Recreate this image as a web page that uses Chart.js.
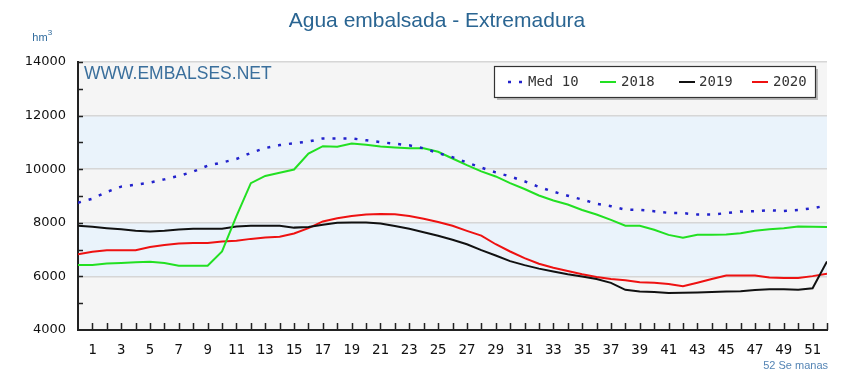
<!DOCTYPE html>
<html lang="es">
<head>
    <meta charset="UTF-8">
    <title>Agua embalsada - Extremadura</title>
    <script src="https://cdn.jsdelivr.net/npm/chart.js"></script>
    <style>
        body { margin: 0; padding: 0; background: #fff; }
        #wrap { width: 843px; height: 376px; }
    </style>
</head>
<body>
<div id="wrap"><canvas id="chart" width="843" height="376"></canvas></div>
<script>
// semanas (eje X) y series en hm3
const weeks = [0,1,2,3,4,5,6,7,8,9,10,11,12,13,14,15,16,17,18,19,20,21,22,23,24,25,26,
    27,28,29,30,31,32,33,34,35,36,37,38,39,40,41,42,43,44,45,46,47,48,49,50,51,52];
const med10 = [8750,8900,9150,9350,9420,9500,9620,9750,9910,10130,10250,10380,10610,10790,10900,10970,11030,11150,11150,11150,
    11080,11010,10950,10890,10780,10600,10450,10250,10060,9880,9730,9550,9340,9160,9010,8870,8710,8620,8490,8480,8430,8370,
    8360,8310,8310,8360,8420,8430,8470,8440,8480,8540,8650];
const y2018 = [6430,6430,6480,6500,6530,6550,6500,6400,6400,6400,6930,8250,9480,9750,9870,9990,10580,10860,10840,10960,
    10910,10850,10810,10780,10780,10650,10400,10150,9920,9730,9480,9260,9020,8830,8680,8480,8310,8110,7890,7890,7740,7550,
    7440,7550,7550,7560,7610,7700,7760,7800,7860,7850,7840];
const y2019 = [7890,7850,7800,7760,7700,7680,7700,7750,7780,7780,7780,7860,7890,7890,7890,7820,7840,7930,8000,8010,
    8010,7970,7880,7780,7650,7520,7370,7200,6980,6780,6570,6420,6290,6180,6080,6000,5900,5760,5500,5440,5420,5380,
    5390,5400,5420,5440,5450,5490,5520,5520,5500,5560,6560];
const y2020 = [6830,6920,6980,6980,6980,7100,7170,7230,7250,7250,7300,7330,7400,7450,7480,7600,7800,8050,8170,8250,
    8310,8330,8320,8250,8150,8030,7890,7700,7520,7200,6930,6680,6470,6320,6200,6080,5980,5900,5860,5780,5760,5720,
    5630,5760,5900,6030,6030,6030,5960,5940,5940,6010,6100];
const seriesNames = ['Med 10', '2018', '2019', '2020'];
const yTicks = [4000, 6000, 8000, 10000, 12000, 14000];

const pts = arr => weeks.map((w, i) => ({ x: w, y: arr[i] }));

// fondo con bandas, marcas hacia dentro, leyenda y textos
const decor = {
    id: 'decor',
    beforeDraw(chart) {
        const { ctx, chartArea: a, scales: { y } } = chart;
        ctx.save();
        ctx.fillStyle = '#fff';
        ctx.fillRect(0, 0, chart.width, chart.height);
        ctx.fillStyle = '#f5f5f5';
        ctx.fillRect(a.left, a.top, a.right - a.left, a.bottom - a.top);
        ctx.fillStyle = '#eaf3fb';
        [[6000, 8000], [10000, 12000]].forEach(([lo, hi]) => {
            const t = y.getPixelForValue(hi), b = y.getPixelForValue(lo);
            ctx.fillRect(a.left, t, a.right - a.left, b - t);
        });
        ctx.restore();
    },
    afterDraw(chart) {
        const { ctx, chartArea: a, scales: { x, y } } = chart;
        ctx.save();
        // marcas
        ctx.strokeStyle = '#222';
        ctx.lineWidth = 1.5;
        ctx.beginPath();
        for (let w = 1; w <= 52; w++) {
            const px = Math.round(x.getPixelForValue(w)) + 0.5;
            ctx.moveTo(px, a.bottom);
            ctx.lineTo(px, a.bottom - 7);
        }
        for (let v = 5000; v <= 14000; v += 1000) {
            const py = Math.round(y.getPixelForValue(v)) + 0.5;
            ctx.moveTo(a.left, py);
            ctx.lineTo(a.left + 5, py);
        }
        ctx.stroke();

        // textos
        ctx.textBaseline = 'alphabetic';
        ctx.textAlign = 'center';
        ctx.fillStyle = '#2a6592';
        ctx.font = '21px "Liberation Sans", Arial, sans-serif';
        ctx.fillText('Agua embalsada - Extremadura', 437, 27);
        ctx.textBaseline = 'middle';
        ctx.fillStyle = '#2f6a9c';
        ctx.font = '11px "Liberation Sans", Arial, sans-serif';
        ctx.fillText('hm', 40, 38);
        ctx.font = '8px "Liberation Sans", Arial, sans-serif';
        ctx.fillText('3', 50, 33);
        ctx.textAlign = 'left';
        ctx.fillStyle = '#3a6f9c';
        ctx.font = '17.5px "Liberation Sans", Arial, sans-serif';
        ctx.fillText('WWW.EMBALSES.NET', 84, 74);
        ctx.fillStyle = '#5585b5';
        ctx.font = '11px "Liberation Sans", Arial, sans-serif';
        ctx.textAlign = 'right';
        ctx.fillText('52 Se manas', 828, 366);

        // leyenda
        const bx = 494, by = 66, bw = 321, bh = 31;
        ctx.fillStyle = '#bbb';
        ctx.fillRect(bx + 3, by + 3, bw, bh);
        ctx.fillStyle = '#fff';
        ctx.fillRect(bx, by, bw, bh);
        ctx.strokeStyle = '#333';
        ctx.lineWidth = 1.2;
        ctx.strokeRect(bx + 0.5, by + 0.5, bw, bh);
        const items = [[508, 528], [600, 621], [679, 699], [752, 773]];
        ctx.font = '14px "DejaVu Sans Mono", monospace';
        ctx.textAlign = 'left';
        chart.data.datasets.forEach((ds, i) => {
            const [lx, tx] = items[i];
            const ly = by + bh / 2 + 0.5;
            ctx.strokeStyle = ds.borderColor;
            ctx.lineWidth = ds.borderWidth;
            ctx.setLineDash(ds.borderDash || []);
            ctx.beginPath();
            ctx.moveTo(lx, ly);
            ctx.lineTo(lx + 16, ly);
            ctx.stroke();
            ctx.setLineDash([]);
            ctx.fillStyle = '#333';
            ctx.fillText(ds.label, tx, ly);
        });
        ctx.restore();
    }
};

new Chart(document.getElementById('chart'), {
    type: 'line',
    data: {
        datasets: [
            { label: seriesNames[0], data: pts(med10), borderColor: '#2222cc', borderWidth: 2.5, borderDash: [3, 8] },
            { label: seriesNames[1], data: pts(y2018), borderColor: '#22e022', borderWidth: 2 },
            { label: seriesNames[2], data: pts(y2019), borderColor: '#111111', borderWidth: 2 },
            { label: seriesNames[3], data: pts(y2020), borderColor: '#ee1111', borderWidth: 2 }
        ]
    },
    options: {
        responsive: false,
        animation: false,
        elements: { point: { radius: 0 }, line: { tension: 0 } },
        layout: { padding: { left: 0, top: 62, right: 16, bottom: 0 } },
        plugins: { legend: { display: false }, title: { display: false }, tooltip: { enabled: false } },
        scales: {
            x: {
                type: 'linear', min: 0, max: 52,
                afterFit: s => { s.height = 46; },
                grid: { drawOnChartArea: false, drawTicks: false },
                border: { display: true, color: '#222', width: 2 },
                ticks: {
                    stepSize: 1, autoSkip: false, maxRotation: 0, padding: 12,
                    color: '#111', font: { family: '"DejaVu Sans Mono", monospace', size: 14 },
                    callback: v => (v % 2 === 1 ? String(v) : '')
                }
            },
            y: {
                min: yTicks[0], max: yTicks[yTicks.length - 1],
                afterFit: s => { s.width = 78; },
                grid: {
                    drawTicks: false,
                    color: c => (yTicks.includes(c.tick.value) ? '#d6d6d6' : 'rgba(0,0,0,0)'),
                    lineWidth: 1.5
                },
                border: { display: true, color: '#222', width: 2 },
                ticks: {
                    stepSize: 1000, autoSkip: false, padding: 12,
                    color: '#111', font: { family: '"DejaVu Sans", sans-serif', size: 13 },
                    callback: v => (yTicks.includes(v) ? String(v) : '')
                }
            }
        }
    },
    plugins: [decor]
});
</script>
</body>
</html>
